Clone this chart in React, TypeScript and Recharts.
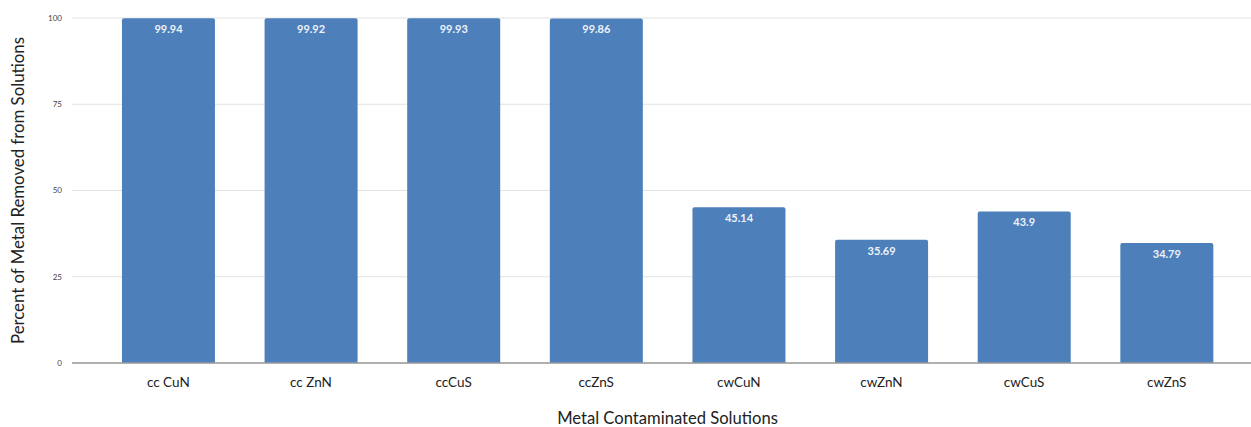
import { Bar, BarChart, CartesianGrid, LabelList, XAxis, YAxis } from "recharts"

const solutions = ["cc CuN", "cc ZnN", "ccCuS", "ccZnS", "cwCuN", "cwZnN", "cwCuS", "cwZnS"]
const removedPct = [99.94, 99.92, 99.93, 99.86, 45.14, 35.69, 43.9, 34.79]
const yTicks = [0, 25, 50, 75, 100]

const data = solutions.map((name, i) => ({ name, removed: removedPct[i] }))

const FONT = "Lato, 'Open Sans', sans-serif"

export default function App() {
  return (
    <div style={{ position: "absolute", left: 0, top: 0, fontFamily: FONT }}>
      <BarChart
        width={1251}
        height={427}
        data={data}
        margin={{ top: 18, right: 0, left: 36, bottom: 0 }}
        barCategoryGap="17.5%"
      >
        <CartesianGrid vertical={false} stroke="#e2e2e2" strokeWidth={1} />
        <XAxis
          dataKey="name"
          padding={{ left: 25, right: 13 }}
          tickLine={false}
          axisLine={{ stroke: "#9a9a9a", strokeWidth: 1.5 }}
          tick={{ fontSize: 13.5, fill: "#222", fontFamily: FONT }}
          tickMargin={8}
          height={64}
          label={{
            value: "Metal Contaminated Solutions",
            position: "insideBottom",
            offset: 3,
            dx: 6,
            style: { fontSize: 16.6, fill: "#222", fontFamily: FONT },
          }}
        />
        <YAxis
          domain={[0, 100]}
          ticks={yTicks}
          tickLine={false}
          axisLine={false}
          width={36}
          tick={{ fontSize: 8, fill: "#444", fontFamily: FONT }}
          tickMargin={4}
          label={{
            value: "Percent of Metal Removed from Solutions",
            angle: -90,
            position: "insideLeft",
            offset: 0,
            dx: -18,
            dy: 0,
            style: { textAnchor: "middle", fontSize: 16.8, fill: "#222", fontFamily: FONT },
          }}
        />
        <Bar dataKey="removed" fill="#4d7fbb" radius={[2, 2, 0, 0]} isAnimationActive={false}>
          <LabelList
            dataKey="removed"
            position="insideTop"
            offset={7}
            style={{ fontSize: 11, fontWeight: 700, fill: "#eef2f8", fontFamily: FONT }}
          />
        </Bar>
      </BarChart>
    </div>
  )
}
